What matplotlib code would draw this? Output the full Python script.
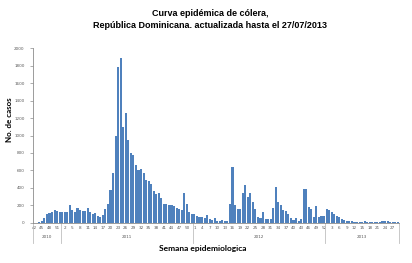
import matplotlib
matplotlib.use("Agg")
import matplotlib.pyplot as plt
import matplotlib.transforms as mtransforms
import numpy as np

# ---- data ----
years = ["2010", "2011", "2012", "2013"]
weeks_2010 = list(range(42, 53))
weeks_2011 = list(range(1, 53))
weeks_2012 = list(range(1, 53))
weeks_2013 = list(range(1, 30))

cases_2010 = [0, 0, 3, 20, 50, 95, 107, 126, 141, 137, 118]
cases_2011 = [118, 126, 122, 199, 145, 126, 164, 145, 134, 134,
              164, 122, 99, 115, 80, 70, 88, 155, 215, 378,
              565, 990, 1790, 1890, 1100, 1260, 950, 795, 775, 660,
              603, 620, 573, 489, 480, 440, 360, 330, 345, 280,
              215, 218, 205, 205, 195, 170, 155, 140, 345, 220,
              120, 105]
cases_2012 = [95, 80, 65, 60, 55, 90, 40, 30, 50, 20,
              25, 28, 25, 25, 212, 640, 202, 157, 160, 340,
              435, 290, 345, 240, 155, 69, 50, 118, 42, 42,
              42, 172, 405, 240, 202, 145, 137, 99, 50, 30,
              50, 23, 38, 382, 382, 176, 153, 69, 191, 69,
              80, 80]
cases_2013 = [160, 145, 120, 100, 80, 60, 45, 32, 25, 18,
              15, 12, 10, 8, 12, 14, 8, 6, 5, 6,
              8, 12, 15, 18, 14, 10, 8, 6, 5]

yticks = list(range(0, 2001, 200))

weeks_by_year = [weeks_2010, weeks_2011, weeks_2012, weeks_2013]
cases_by_year = [cases_2010, cases_2011, cases_2012, cases_2013]
all_weeks = [w for ws in weeks_by_year for w in ws]
all_cases = [c for cs in cases_by_year for c in cs]
n = len(all_cases)
x = np.arange(n)

# ---- figure ----
fig = plt.figure(figsize=(4.12, 2.63), dpi=100)
ax = fig.add_axes([33/412, 1-222.7/263, (399-33)/412, (222.7-48.3)/263])

ax.bar(x, all_cases, width=0.82, color="#4F81BD", edgecolor="none")
ax.set_xlim(-0.5, n-0.5)
ax.set_ylim(0, 2000)

gray = "#8C8C8C"
for s in ["top", "right"]:
    ax.spines[s].set_visible(False)
for s in ["left", "bottom"]:
    ax.spines[s].set_color(gray)
    ax.spines[s].set_linewidth(0.6)

ax.set_yticks(yticks)
ax.set_yticklabels([str(v) for v in yticks], fontsize=3.0, color="#595959")
ax.tick_params(axis="y", length=2, width=0.5, color=gray, pad=4)

tick_pos = x[::3]
ax.set_xticks(tick_pos)
ax.set_xticklabels([str(all_weeks[i]) for i in tick_pos], fontsize=3.0, color="#595959")
ax.tick_params(axis="x", length=0, pad=2.5)

# year separators and labels
trans = mtransforms.blended_transform_factory(ax.transData, ax.transAxes)
bounds = [-0.5]
for ws in weeks_by_year:
    bounds.append(bounds[-1] + len(ws))
for b in bounds:
    ax.plot([b, b], [0, -0.118], transform=trans, color="#BFBFBF", lw=0.6, clip_on=False)
for i, yr in enumerate(years):
    ax.text((bounds[i] + bounds[i+1]) / 2, -0.083, yr, transform=trans,
            ha="center", va="center", fontsize=3.0, color="#595959")

fig.text(210/412, 1-14/263, "Curva epidémica de cólera,", ha="center", va="center",
         fontsize=6.45, fontweight="bold", family="Liberation Sans")
fig.text(210/412, 1-25/263, "República Dominicana. actualizada hasta el 27/07/2013",
         ha="center", va="center", fontsize=6.45, fontweight="bold", family="Liberation Sans")
fig.text(10/412, 1-120/263, "No. de casos", rotation=90, ha="center", va="center",
         fontsize=5.8, fontweight="bold", family="Lato")
fig.text(203/412, 1-249/263, "Semana epidemiologica", ha="center", va="center",
         fontsize=6.0, fontweight="bold", family="Lato")

fig.savefig("out.png", dpi=100)
